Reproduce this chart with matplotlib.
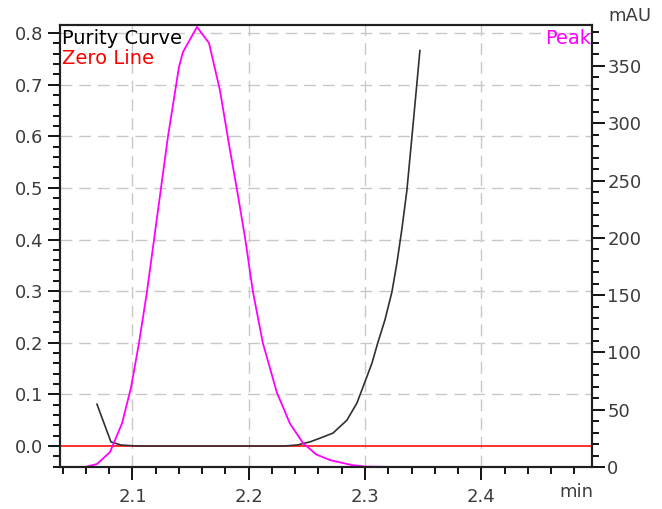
import numpy as np
import matplotlib
matplotlib.use("Agg")
import matplotlib.pyplot as plt
from matplotlib.ticker import MultipleLocator

# peak trace (mAU, right axis)
peak_t = [2.0377, 2.0592, 2.0695, 2.0807, 2.0910, 2.0987, 2.1056, 2.1125, 2.1185,
          2.1245, 2.1305, 2.1400, 2.1434, 2.1555, 2.1658, 2.1752, 2.1838, 2.1899,
          2.1967, 2.2036, 2.2122, 2.2242, 2.2354, 2.2466, 2.2580, 2.2700, 2.2887,
          2.3000, 2.3300, 2.4952]
peak_mau = [0, 0, 2.6, 13, 38, 69, 108, 153, 198,
            243, 288, 349, 362, 384, 370, 329, 277, 242,
            201, 153, 108, 65, 38, 21, 11, 6, 1.7,
            0.4, 0, 0]

# purity curve (left axis)
pur_t = [2.0695, 2.0815, 2.0900, 2.1040, 2.2300, 2.2416, 2.2526, 2.2610, 2.2724,
         2.2844, 2.2930, 2.2982, 2.3059, 2.3110, 2.3171, 2.3231, 2.3274, 2.3317,
         2.3360, 2.3403, 2.3446, 2.3472]
pur_val = [0.081, 0.008, 0.002, 0.0, 0.0, 0.002, 0.008, 0.015, 0.025,
           0.050, 0.083, 0.114, 0.160, 0.200, 0.244, 0.298, 0.354, 0.420,
           0.495, 0.598, 0.702, 0.766]

x_major = [2.1, 2.2, 2.3, 2.4]
x_labels = ["2.1", "2.2", "2.3", "2.4"]

W, H = 662, 509
fig = plt.figure(figsize=(W / 100, H / 100), dpi=100)
ax = fig.add_axes([60 / W, (H - 467) / H, 532 / W, 442 / H])
ax2 = ax.twinx()

tick_col = "#3c3c3c"
font = "DejaVu Sans"
grid_kw = dict(color="#c8c8c8", lw=1.0, ls=(0, (8.5, 5)))

ax.set_xlim(2.0377, 2.4952)
ax.set_ylim(-0.0406, 0.8155)
ax2.set_ylim(0, 385.7)

for gx in x_major:
    ax.axvline(gx, zorder=0, **grid_kw)
for gy in np.arange(1, 9) / 10:
    ax.axhline(gy, zorder=0, **grid_kw)

ax.axhline(0, color="#ff2020", lw=1.3, zorder=1)
ax.plot(pur_t, pur_val, color="#303030", lw=1.2, zorder=2)
ax2.plot(peak_t, peak_mau, color="#ff00ff", lw=1.3, clip_on=True)

ax.set_xticks(x_major)
ax.set_xticklabels(x_labels)
ax.xaxis.set_minor_locator(MultipleLocator(0.02))
ax.yaxis.set_major_locator(MultipleLocator(0.1))
ax.yaxis.set_minor_locator(MultipleLocator(0.02))
ax.yaxis.set_major_formatter(matplotlib.ticker.FormatStrFormatter("%.1f"))
ax2.yaxis.set_major_locator(MultipleLocator(50))
ax2.yaxis.set_minor_locator(MultipleLocator(10))

for a in (ax, ax2):
    a.tick_params(which="major", length=9, width=1.3, color="black",
                  labelsize=13, labelcolor=tick_col)
    a.tick_params(which="minor", length=5, width=1.3, color="black")
    for s in a.spines.values():
        s.set_linewidth(1.5)
        s.set_color("#202020")
    for lab in a.get_xticklabels() + a.get_yticklabels():
        lab.set_family(font)
ax.tick_params(axis="x", pad=6)
ax.tick_params(axis="y", pad=3)
ax2.tick_params(axis="y", pad=2)

ax.text(0.003, 0.99, "Purity Curve", transform=ax.transAxes, ha="left", va="top",
        fontsize=14, color="black", family=font)
ax.text(0.003, 0.945, "Zero Line", transform=ax.transAxes, ha="left", va="top",
        fontsize=14, color="#ff0000", family=font)
ax.text(0.998, 0.99, "Peak", transform=ax.transAxes, ha="right", va="top",
        fontsize=14, color="#ff00ff", family=font)
fig.text(608 / W, 1 - 16 / H, "mAU", ha="left", va="center",
         fontsize=13, color=tick_col, family=font)
fig.text(593 / W, 1 - 492 / H, "min", ha="right", va="center",
         fontsize=13, color=tick_col, family=font)

fig.savefig("out.png", dpi=100)
